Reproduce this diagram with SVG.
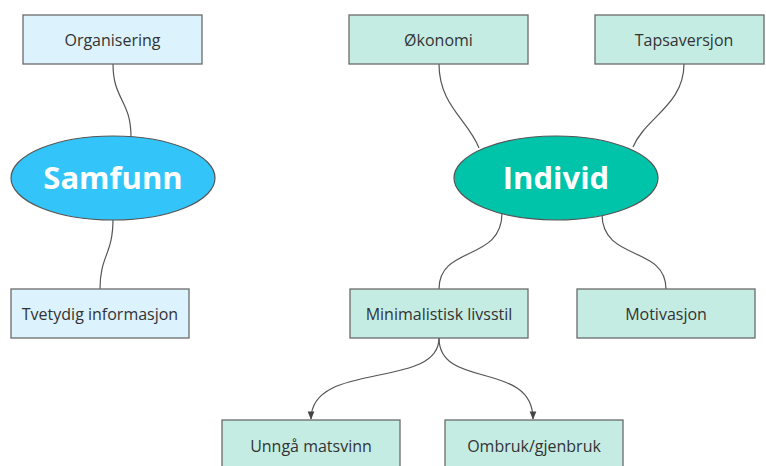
<svg xmlns="http://www.w3.org/2000/svg" width="766" height="466" viewBox="0 0 766 466">
  <style>
    .box { stroke: #6b6b6b; stroke-width: 1.3; }
    .blue { fill: #dcf2fc; }
    .mint { fill: #c5ece3; }
    .label { font-family: "Open Sans", "Noto Sans", sans-serif; font-size: 16px; fill: #333; text-anchor: middle; }
    .hub { stroke: #555; stroke-width: 1.2; }
    .hubtext { font-family: "Open Sans", "Noto Sans", sans-serif; font-size: 31px; font-weight: bold; fill: #fff; text-anchor: middle; }
    .link { fill: none; stroke: #555; stroke-width: 1.2; }
  </style>
  <defs>
    <marker id="arrow" viewBox="0 0 10 10" refX="9" refY="5" markerWidth="7" markerHeight="7" orient="auto">
      <path d="M0,1 L10,5 L0,9 z" fill="#444"/>
    </marker>
  </defs>
  <rect width="766" height="466" fill="#fff"/>

  <!-- connectors -->
  <g id="connectors">
    <path class="link" d="M113,64 C113,100 131,100 131,137"/>
    <path class="link" d="M113,219 C113,255 100,255 100,289"/>
    <path class="link" d="M439,64 C439,105 468,120 479,148"/>
    <path class="link" d="M684,64 C684,105 645,118 633,147"/>
    <path class="link" d="M502,213 C502,262 439,245 439,289"/>
    <path class="link" d="M602,214 C602,262 666,245 666,289"/>
    <path class="link" d="M439,338 C439,390 311,360 311,419" marker-end="url(#arrow)"/>
    <path class="link" d="M439,338 C439,390 533,360 533,419" marker-end="url(#arrow)"/>
  </g>

  <g id="samfunn">
    <ellipse class="hub" cx="113" cy="178" rx="102" ry="42" fill="#33c5fa"/>
    <text class="hubtext" x="113" y="189">Samfunn</text>
  </g>
  <g id="individ">
    <ellipse class="hub" cx="556" cy="178" rx="102" ry="42" fill="#00c4aa"/>
    <text class="hubtext" x="556" y="189">Individ</text>
  </g>

  <g id="organisering">
    <rect class="box blue" x="23" y="15" width="179" height="49"/>
    <text class="label" x="112.5" y="46">Organisering</text>
  </g>
  <g id="tvetydig">
    <rect class="box blue" x="11" y="289" width="178" height="49"/>
    <text class="label" x="100" y="320">Tvetydig informasjon</text>
  </g>
  <g id="okonomi">
    <rect class="box mint" x="349" y="15" width="179" height="49"/>
    <text class="label" x="438.5" y="46">Økonomi</text>
  </g>
  <g id="tapsaversjon">
    <rect class="box mint" x="595" y="15" width="169" height="49"/>
    <text class="label" x="684" y="46">Tapsaversjon</text>
  </g>
  <g id="minimalistisk">
    <rect class="box mint" x="350" y="289" width="178" height="49"/>
    <text class="label" x="439" y="320">Minimalistisk livsstil</text>
  </g>
  <g id="motivasjon">
    <rect class="box mint" x="577" y="289" width="178" height="49"/>
    <text class="label" x="666" y="320">Motivasjon</text>
  </g>
  <g id="unnga">
    <rect class="box mint" x="222" y="420" width="178" height="60"/>
    <text class="label" x="311" y="452">Unngå matsvinn</text>
  </g>
  <g id="ombruk">
    <rect class="box mint" x="445" y="420" width="178" height="60"/>
    <text class="label" x="534" y="452">Ombruk/gjenbruk</text>
  </g>
</svg>
